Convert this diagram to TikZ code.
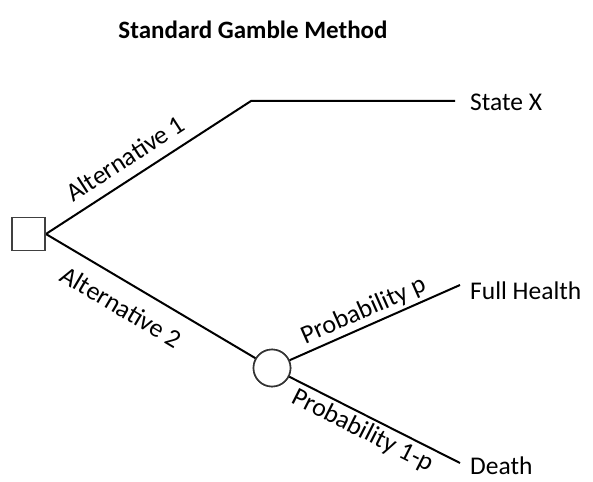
\documentclass[tikz,border=0pt]{standalone}
\usepackage{fontspec}
\setmainfont{Carlito}
\begin{document}
\begin{tikzpicture}[x=1pt,y=-1pt,
  branch/.style={draw=black,line width=2pt},
  lbl/.style={font=\fontsize{26}{28}\selectfont,inner sep=3pt},
  altlbl/.style={lbl,inner ysep=10pt},
  outcome/.style={font=\fontsize{25.5}{28}\selectfont,anchor=west,inner sep=0pt},
  decision/.style={draw=black!75,line width=1.8pt,fill=white,rectangle,minimum size=33pt,inner sep=0pt},
  chance/.style={draw=black!80,line width=1.6pt,fill=white,circle,minimum size=37pt,inner sep=0pt}]
\useasboundingbox (0,0) rectangle (593,481);
\node[font=\bfseries\fontsize{25}{28}\selectfont] (title) at (253,30) {Standard Gamble Method};
\node[decision] (dec) at (28.5,234) {};
\coordinate (kink) at (251,101);
\coordinate (xend) at (455,101);
\node[chance] (ch) at (272,368) {};
\coordinate (fhend) at (460,285);
\coordinate (dend) at (460,463);
\node[outcome] (sx) at (470,102) {State X};
\node[outcome] (fh) at (470,291) {Full Health};
\node[outcome] (de) at (470,466) {Death};
\draw[branch] (dec.east) -- node[altlbl,sloped,above,pos=0.44] {Alternative 1} (kink) -- (xend);
\draw[branch] (dec.east) -- node[altlbl,inner ysep=14pt,sloped,below,pos=0.42] {Alternative 2} (ch);
\draw[branch] (ch) -- node[lbl,sloped,above,pos=0.47] {Probability p} (fhend);
\draw[branch] (ch) -- node[lbl,sloped,below,pos=0.47] {Probability 1-p} (dend);
\node[chance] at (ch) {};
\node[decision] at (dec) {};
\end{tikzpicture}
\end{document}
